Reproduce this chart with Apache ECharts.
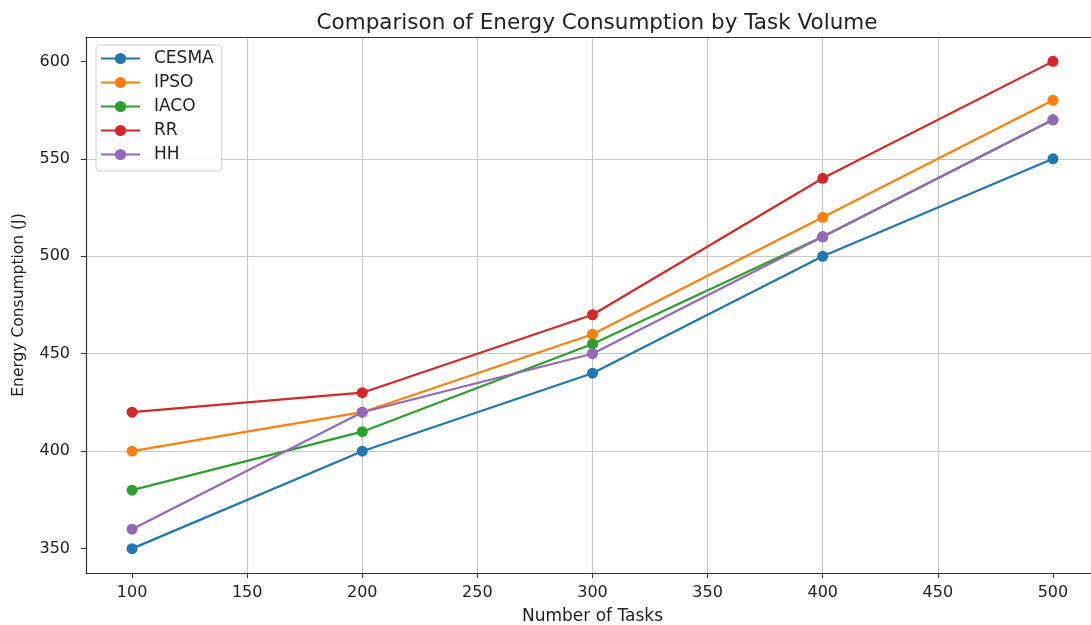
<!DOCTYPE html>
<html>
<head>
<meta charset="utf-8">
<script src="https://cdn.jsdelivr.net/npm/echarts@6/dist/echarts.min.js"></script>
<style>
  html, body { margin: 0; padding: 0; background: #fff; overflow: hidden; }
  #wrap { width: 1091px; height: 625px; overflow: hidden; }
  #chart { width: 1110px; height: 625px; }
</style>
</head>
<body>
<div id="wrap"><div id="chart"></div></div>
<script>
// data
var taskCounts = [100, 200, 300, 400, 500];
var cesma = [350, 400, 440, 500, 550];
var ipso  = [400, 420, 460, 520, 580];
var iaco  = [380, 410, 455, 510, 570];
var rr    = [420, 430, 470, 540, 600];
var hh    = [360, 420, 450, 510, 570];
var xTicks = [100, 150, 200, 250, 300, 350, 400, 450, 500];
var yTicks = [350, 400, 450, 500, 550, 600];

var seriesList = [
  { name: "CESMA", data: cesma, color: "#1f77b4" },
  { name: "IPSO",  data: ipso,  color: "#ff7f0e" },
  { name: "IACO",  data: iaco,  color: "#2ca02c" },
  { name: "RR",    data: rr,    color: "#d62728" },
  { name: "HH",    data: hh,    color: "#9467bd" }
];

var font = "DejaVu Sans";
var myChart = echarts.init(document.getElementById("chart"));

var option = {
  animation: false,
  backgroundColor: "#fff",
  title: {
    text: "Comparison of Energy Consumption by Task Volume",
    left: 592,
    textAlign: "center",
    top: 7,
    textStyle: { fontFamily: font, fontSize: 21.5, fontWeight: "normal", color: "#222" }
  },
  legend: {
    left: 96,
    top: 45,
    orient: "vertical",
    itemWidth: 39,
    itemHeight: 14,
    itemGap: 7,
    padding: [5, 8, 8, 4],
    backgroundColor: "rgba(255,255,255,0.8)",
    borderColor: "#d0d0d0",
    borderWidth: 1,
    borderRadius: 3,
    textStyle: { fontFamily: font, fontSize: 17, color: "#222", padding: [0, 0, 0, 9] },
    data: seriesList.map(function (s) { return s.name; })
  },
  grid: {
    left: 86,
    right: 11,
    top: 37,
    bottom: 52,
    containLabel: false,
    outerBoundsMode: "none"
  },
  xAxis: [{
    type: "value",
    min: 80,
    max: 520,
    splitNumber: 9,
    name: "Number of Tasks",
    nameLocation: "middle",
    nameGap: 35,
    nameTextStyle: { fontFamily: font, fontSize: 17, color: "#222" },
    axisLine: { show: true, lineStyle: { color: "#333", width: 1.2 } },
    axisTick: { show: true, length: 5, customValues: xTicks, lineStyle: { color: "#333" } },
    axisLabel: {
      customValues: xTicks,
      fontFamily: font, fontSize: 16, color: "#222", margin: 12
    },
    splitLine: {
      show: true, showMinLine: false, showMaxLine: false,
      lineStyle: { color: "#c8c8c8", width: 1.2 }
    }
  }, {
    // top spine only
    type: "value",
    position: "top",
    min: 80,
    max: 520,
    axisLine: { show: true, onZero: false, lineStyle: { color: "#333", width: 1.2 } },
    axisTick: { show: false },
    axisLabel: { show: false },
    splitLine: { show: false }
  }],
  yAxis: {
    type: "value",
    min: 337.5,
    max: 612.5,
    splitNumber: 5,
    name: "Energy Consumption (J)",
    nameLocation: "middle",
    nameGap: 59,
    nameTextStyle: { fontFamily: font, fontSize: 15.5, color: "#222" },
    axisLine: { show: true, lineStyle: { color: "#333", width: 1.2 } },
    axisTick: { show: true, length: 5, customValues: yTicks, lineStyle: { color: "#333" } },
    axisLabel: {
      customValues: yTicks,
      fontFamily: font, fontSize: 16, color: "#222", margin: 16
    },
    splitLine: {
      show: true, showMinLine: false, showMaxLine: false,
      lineStyle: { color: "#c8c8c8", width: 1.2 }
    }
  },
  series: seriesList.map(function (s) {
    return {
      name: s.name,
      type: "line",
      data: taskCounts.map(function (t, i) { return [t, s.data[i]]; }),
      symbol: "circle",
      symbolSize: 11,
      color: s.color,
      lineStyle: { width: 2.2, color: s.color },
      itemStyle: { color: s.color }
    };
  })
};

myChart.setOption(option);
</script>
</body>
</html>
